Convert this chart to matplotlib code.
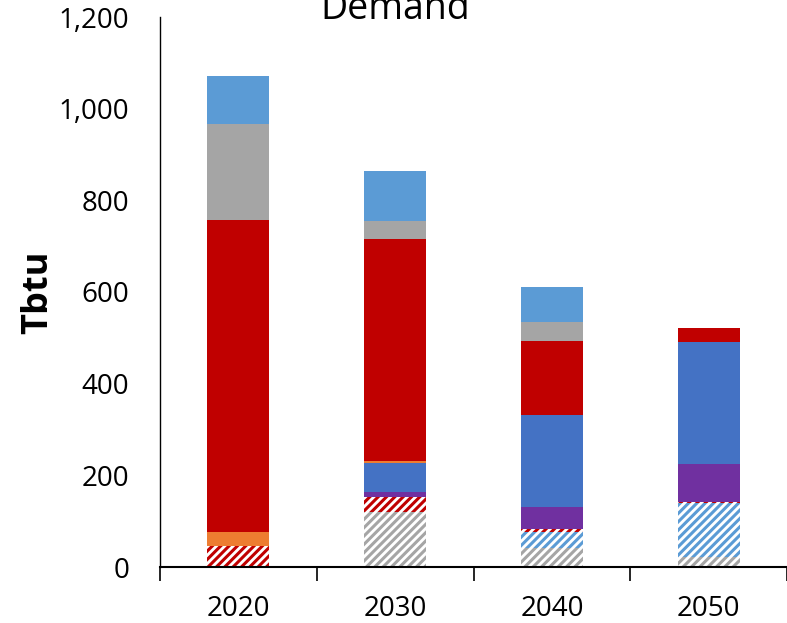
import numpy as np
import matplotlib.pyplot as plt

years = ['2020', '2030', '2040', '2050']

# stacked segments, bottom to top (Tbtu)
gray_hatch = [0, 121, 41, 22]
blue_hatch = [0, 0, 36, 117]
red_hatch = [46, 31, 7, 2]
purple = [0, 12, 48, 83]
blue = [0, 64, 199, 268]
orange = [31, 3, 0, 0]
red = [680, 485, 163, 29]
gray = [210, 40, 40, 0]
light_blue = [104, 107, 77, 0]

plt.rcParams['font.family'] = ['Open Sans', 'DejaVu Sans']
plt.rcParams['hatch.linewidth'] = 2.2

fig = plt.figure(figsize=(7.87, 6.23), dpi=100)
ax = fig.add_axes([160 / 787, 56 / 623, 627 / 787, 550 / 623])

x = np.arange(len(years))
w = 0.395
bottom = np.zeros(len(years))

# hatched segments: white face, coloured stripes
for vals, col in [(gray_hatch, '#A5A5A5'), (blue_hatch, '#5B9BD5'), (red_hatch, '#C00000')]:
    ax.bar(x, vals, w, bottom=bottom, color='white', edgecolor=col,
           hatch='////', linewidth=0)
    bottom += np.array(vals)

for vals, col in [(purple, '#7030A0'), (blue, '#4472C4'), (orange, '#ED7D31'),
                  (red, '#C00000'), (gray, '#A5A5A5'), (light_blue, '#5B9BD5')]:
    ax.bar(x, vals, w, bottom=bottom, color=col, linewidth=0)
    bottom += np.array(vals)

ax.set_xlim(-0.5, 3.5)
ax.set_ylim(0, 1200)
ax.set_yticks(range(0, 1201, 200))
ax.set_yticklabels(['{:,}'.format(v) for v in range(0, 1201, 200)], fontsize=20)
ax.set_xticks(x)
ax.set_xticklabels(years, fontsize=20)
ax.set_xticks(np.arange(-0.5, 3.6, 1), minor=True)
ax.tick_params(axis='x', which='major', length=0, pad=20)
ax.tick_params(axis='x', which='minor', length=10, width=1.2, direction='out')
ax.tick_params(axis='y', length=0, pad=22)

for s in ['top', 'right']:
    ax.spines[s].set_visible(False)
ax.spines['left'].set_linewidth(1.0)
ax.spines['bottom'].set_linewidth(1.5)

ax.set_ylabel('Tbtu', fontsize=26, fontweight='bold', labelpad=2)
# title sits partly above the top edge, as in the reference
fig.text(395 / 787, 1 - 19 / 623, 'Demand', fontsize=27, ha='center', va='baseline')

fig.savefig('out.png', dpi=100)
